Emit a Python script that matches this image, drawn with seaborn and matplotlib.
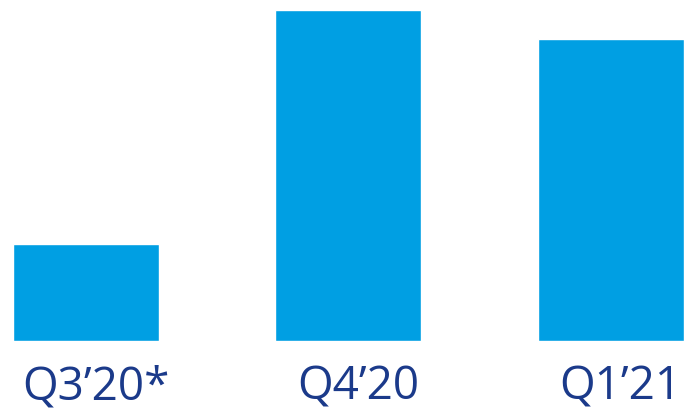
import matplotlib
matplotlib.use("Agg")
import matplotlib.pyplot as plt
import matplotlib.transforms as mtransforms
import seaborn as sns
import pandas as pd

categories = ["Q3\u201920*", "Q4\u201920", "Q1\u201921"]
values = [97, 331, 302]

BAR_COLOR = "#009FE3"
TEXT_COLOR = "#1B3A8A"

sns.set_theme(style="white")
plt.rcParams['font.family'] = ['Open Sans', 'DejaVu Sans']

fig = plt.figure(figsize=(6.84, 4.10), dpi=100)
ax = fig.add_axes([0.0, (410 - 342) / 410, 1.0, 331 / 410])

df = pd.DataFrame({"cat": categories, "val": values})
sns.barplot(data=df, x="cat", y="val", color=BAR_COLOR, saturation=1,
            width=146 / 262.25, ax=ax)

ax.set_xlim(-86 / 262.25, (684 - 86) / 262.25)
ax.set_ylim(0, max(values))
ax.set_axis_off()

trans = mtransforms.blended_transform_factory(ax.transData, ax.transAxes)
shift = mtransforms.ScaledTranslation(10 / 100, 0, fig.dpi_scale_trans)
for i, lab in enumerate(categories):
    ax.text(i, -58 / 331, lab, transform=trans + shift, ha="center", va="baseline",
            fontsize=33, fontweight="medium", color=TEXT_COLOR, clip_on=False)

fig.savefig("out.png", dpi=100)
